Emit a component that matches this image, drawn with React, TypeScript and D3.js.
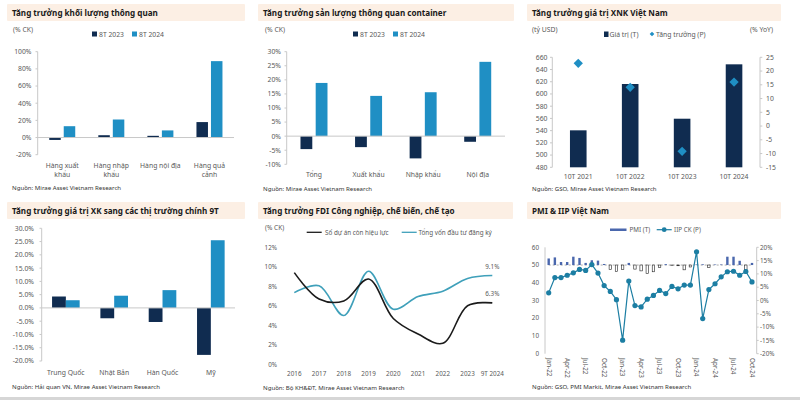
import React from "react";
import * as d3 from "d3";

const FONT = "'Noto Sans', 'Open Sans', sans-serif";
const DARK = "#102c50";
const BLUE = "#1f8fc4";
const GRAY = "#595959";
const AXIS = "#c8c8c8";
const BANNER = "#fcefe4";
const TITLE = "#1a1a1a";

// ---------- Panel 1: Tăng trưởng khối lượng thông quan ----------
const p1Cats = ["Hàng xuất khẩu", "Hàng nhập khẩu", "Hàng nội địa", "Hàng quả cảnh"];
const p1Labels = [["Hàng xuất", "khẩu"], ["Hàng nhập", "khẩu"], ["Hàng nội địa"], ["Hàng quả", "cảnh"]];
const p1S2023 = [-2.8, 2.7, 2.0, 18];
const p1S2024 = [13.2, 21, 8.3, 89];
const p1Ticks = [-20, 0, 20, 40, 60, 80, 100];

// ---------- Panel 2: container ----------
const p2Cats = ["Tổng", "Xuất khẩu", "Nhập khẩu", "Nội địa"];
const p2S2023 = [-4.6, -3.9, -7.9, -2.0];
const p2S2024 = [18.9, 14.3, 15.6, 26.4];
const p2Ticks = [-10, -5, 0, 5, 10, 15, 20, 25, 30];

// ---------- Panel 3: XNK ----------
const p3Cats = ["10T 2021", "10T 2022", "10T 2023", "10T 2024"];
const p3Value = [540.5, 616.3, 559.5, 648.5];
const p3Growth = [22.8, 14.1, -9.2, 16.0];
const p3LeftTicks = [480, 500, 520, 540, 560, 580, 600, 620, 640, 660];
const p3RightTicks = [-15, -10, -5, 0, 5, 10, 15, 20, 25];

// ---------- Panel 4: XK sang thị trường ----------
const p4Cats = ["Trung Quốc", "Nhật Bản", "Hàn Quốc", "Mỹ"];
const p4S1 = [4.3, -3.9, -5.3, -17.7];
const p4S2 = [2.9, 4.6, 6.7, 25.5];
const p4Ticks = [-20, -15, -10, -5, 0, 5, 10, 15, 20, 25, 30];

// ---------- Panel 5: FDI ----------
const p5Years = ["2016", "2017", "2018", "2019", "2020", "2021", "2022", "2023", "9T 2024"];
const p5Projects = [9.4, 6.7, 6.5, 8.75, 4.7, 3.1, 2.15, 6.0, 6.3];
const p5Capital = [7.35, 8.05, 5.0, 9.55, 5.65, 6.95, 7.5, 8.8, 9.1];
const p5Ticks = [0, 2, 4, 6, 8, 10, 12];

// ---------- Panel 6: PMI & IIP ----------
const p6Months = [
  "Jan-22", "Feb-22", "Mar-22", "Apr-22", "May-22", "Jun-22", "Jul-22", "Aug-22", "Sep-22", "Oct-22", "Nov-22", "Dec-22",
  "Jan-23", "Feb-23", "Mar-23", "Apr-23", "May-23", "Jun-23", "Jul-23", "Aug-23", "Sep-23", "Oct-23", "Nov-23", "Dec-23",
  "Jan-24", "Feb-24", "Mar-24", "Apr-24", "May-24", "Jun-24", "Jul-24", "Aug-24", "Sep-24", "Oct-24",
];
const p6PMI = [
  53.7, 54.3, 51.7, 51.7, 54.7, 54.0, 51.2, 52.7, 52.5, 50.6, 47.4, 46.4,
  47.4, 51.2, 47.7, 46.7, 45.3, 46.2, 48.7, 50.5, 49.7, 49.6, 47.3, 48.9,
  50.3, 50.4, 48.5, 50.3, 50.3, 54.7, 54.7, 52.4, 47.3, 51.2,
];
const p6IIP = [
  2.9, 8.6, 8.6, 9.5, 10.4, 11.7, 11.3, 13.5, 10.3, 5.6, 3.4, 0.3,
  -14.9, 7.3, -1.9, -2.4, 0.5, 1.9, 3.8, 2.6, 5.3, 4.4, 5.8, 5.8,
  18.3, -6.8, 4.1, 6.3, 8.9, 10.8, 11.0, 9.5, 10.9, 7.0,
];
const p6LeftTicks = [0, 10, 20, 30, 40, 50, 60];
const p6RightTicks = [-20, -15, -10, -5, 0, 5, 10, 15, 20];
const p6Labels = ["Jan-22", "Apr-22", "Jul-22", "Oct-22", "Jan-23", "Apr-23", "Jul-23", "Oct-23", "Jan-24", "Apr-24", "Jul-24", "Oct-24"];

function Banner({ x, y, w, title }: { x: number; y: number; w: number; title: string }) {
  return (
    <g>
      <rect x={x} y={y} width={w} height={17} fill={BANNER} rx={1} />
      <text x={x + 5} y={y + 12} fontSize={8.1} fontWeight="bold" fill={TITLE}>{title}</text>
    </g>
  );
}

function Source({ x, y, text }: { x: number; y: number; text: string }) {
  return <text x={x} y={y} fontSize={6.1} fill="#333">{text}</text>;
}

function barRect(y: d3.ScaleLinear<number, number>, v: number, base = 0) {
  const a = y(base), b = y(v);
  return { y: Math.min(a, b), h: Math.abs(a - b) };
}

function Legend2({ x1, x2, y, l1, l2 }: { x1: number; x2: number; y: number; l1: string; l2: string }) {
  return (
    <g fontSize={6.8} fill={GRAY}>
      <rect x={x1} y={y - 5} width={5} height={5} fill={DARK} />
      <text x={x1 + 7} y={y}>{l1}</text>
      <rect x={x2} y={y - 5} width={5} height={5} fill={BLUE} />
      <text x={x2 + 7} y={y}>{l2}</text>
    </g>
  );
}

function Panel1() {
  const x = d3.scaleBand<string>().domain(p1Cats).range([37.7, 234]);
  const y = d3.scaleLinear().domain([-20, 100]).range([154.7, 51.7]);
  return (
    <g>
      <Banner x={7} y={4} w={238} title="Tăng trưởng khối lượng thông quan" />
      <text x={13} y={31.5} fontSize={6.8} fill={GRAY}>(% CK)</text>
      <Legend2 x1={92} x2={132} y={36.5} l1="8T 2023" l2="8T 2024" />
      {p1Ticks.map((t) => (
        <g key={t}>
          <text x={31.5} y={y(t) + 2.4} textAnchor="end" fontSize={6.8} fill={GRAY}>{t}%</text>
          <line x1={35.5} x2={37.7} y1={y(t)} y2={y(t)} stroke={AXIS} />
        </g>
      ))}
      <line x1={37.7} x2={37.7} y1={y(100)} y2={y(-20)} stroke={AXIS} />
      {p1Cats.map((c, i) => {
        const cx = x(c)! + x.bandwidth() / 2;
        const r1 = barRect(y, p1S2023[i]);
        const r2 = barRect(y, p1S2024[i]);
        return (
          <g key={c}>
            <rect x={cx - 13} y={r1.y} width={11.5} height={r1.h} fill={DARK} />
            <rect x={cx + 1.5} y={r2.y} width={11.5} height={r2.h} fill={BLUE} />
            {p1Labels[i].map((l, j) => (
              <text key={j} x={cx} y={167.5 + j * 9} textAnchor="middle" fontSize={6.8} fill={GRAY}>{l}</text>
            ))}
          </g>
        );
      })}
      <line x1={37.7} x2={234} y1={y(0)} y2={y(0)} stroke={AXIS} />
      <Source x={12} y={190} text="Nguồn: Mirae Asset Vietnam Research" />
    </g>
  );
}

function Panel2() {
  const x = d3.scaleBand<string>().domain(p2Cats).range([286.7, 505]);
  const y = d3.scaleLinear().domain([-10, 30]).range([164.3, 51.7]);
  return (
    <g>
      <Banner x={258} y={4} w={256} title="Tăng trưởng sản lượng thông quan container" />
      <text x={265} y={31.5} fontSize={6.8} fill={GRAY}>(% CK)</text>
      <Legend2 x1={353} x2={393} y={36.5} l1="8T 2023" l2="8T 2024" />
      {p2Ticks.map((t) => (
        <g key={t}>
          <text x={281} y={y(t) + 2.4} textAnchor="end" fontSize={6.8} fill={GRAY}>{t}%</text>
          <line x1={284.5} x2={286.7} y1={y(t)} y2={y(t)} stroke={AXIS} />
        </g>
      ))}
      <line x1={286.7} x2={286.7} y1={y(30)} y2={y(-10)} stroke={AXIS} />
      {p2Cats.map((c, i) => {
        const cx = x(c)! + x.bandwidth() / 2;
        const r1 = barRect(y, p2S2023[i]);
        const r2 = barRect(y, p2S2024[i]);
        return (
          <g key={c}>
            <rect x={cx - 13.5} y={r1.y} width={11.8} height={r1.h} fill={DARK} />
            <rect x={cx + 1.7} y={r2.y} width={11.8} height={r2.h} fill={BLUE} />
            <text x={cx} y={176.5} textAnchor="middle" fontSize={6.8} fill={GRAY}>{c}</text>
          </g>
        );
      })}
      <line x1={286.7} x2={505} y1={y(0)} y2={y(0)} stroke={AXIS} />
      <Source x={263} y={191} text="Nguồn: Mirae Asset Vietnam Research" />
    </g>
  );
}

function Panel3() {
  const x = d3.scaleBand<string>().domain(p3Cats).range([552.3, 760]);
  const yl = d3.scaleLinear().domain([480, 660]).range([167.3, 57.3]);
  const yr = d3.scaleLinear().domain([-15, 25]).range([167.3, 57.3]);
  const diamond = d3.symbol().type(d3.symbolDiamond2).size(55)();
  return (
    <g>
      <Banner x={527} y={4} w={254} title="Tăng trưởng giá trị XNK Việt Nam" />
      <text x={532} y={31.5} fontSize={6.8} fill={GRAY}>(tỷ USD)</text>
      <text x={773} y={31.5} fontSize={6.8} fill={GRAY} textAnchor="end">(% YoY)</text>
      <g fontSize={6.8} fill={GRAY}>
        <rect x={604} y={31.5} width={4.5} height={5.5} fill={DARK} />
        <text x={609.5} y={36.5}>Giá trị (T)</text>
        <path d={d3.symbol().type(d3.symbolDiamond2).size(14)()!} transform="translate(652,34)" fill={BLUE} />
        <text x={656} y={36.5}>Tăng trưởng (P)</text>
      </g>
      {p3LeftTicks.map((t) => (
        <g key={t}>
          <text x={547.5} y={yl(t) + 2.4} textAnchor="end" fontSize={6.8} fill={GRAY}>{t}</text>
          <line x1={550} x2={552.3} y1={yl(t)} y2={yl(t)} stroke={AXIS} />
        </g>
      ))}
      <line x1={552.3} x2={552.3} y1={yl(660)} y2={yl(480)} stroke={AXIS} />
      {p3RightTicks.map((t) => (
        <g key={t}>
          <text x={766} y={yr(t) + 2.4} fontSize={6.8} fill={GRAY}>{t}</text>
          <line x1={760} x2={762.3} y1={yr(t)} y2={yr(t)} stroke={AXIS} />
        </g>
      ))}
      <line x1={760} x2={760} y1={yr(25)} y2={yr(-15)} stroke={AXIS} />
      {p3Cats.map((c, i) => {
        const cx = x(c)! + x.bandwidth() / 2;
        const r = barRect(yl, p3Value[i], 480);
        return (
          <g key={c}>
            <rect x={cx - 8.3} y={r.y} width={16.6} height={r.h} fill={DARK} />
            <text x={cx} y={179} textAnchor="middle" fontSize={6.8} fill={GRAY}>{c}</text>
          </g>
        );
      })}
      {p3Cats.map((c, i) => {
        const cx = x(c)! + x.bandwidth() / 2;
        return <path key={c} d={diamond!} transform={`translate(${cx},${yr(p3Growth[i])})`} fill={BLUE} />;
      })}
      <Source x={532} y={191} text="Nguồn: GSO, Mirae Asset Vietnam Research" />
    </g>
  );
}

function Panel4() {
  const x = d3.scaleBand<string>().domain(p4Cats).range([41.7, 235]);
  const y = d3.scaleLinear().domain([-20, 30]).range([361, 228.3]);
  return (
    <g>
      <Banner x={7} y={202} w={238} title="Tăng trưởng giá trị XK sang các thị trường chính 9T" />
      {p4Ticks.map((t) => (
        <g key={t}>
          <text x={34} y={y(t) + 2.4} textAnchor="end" fontSize={6.8} fill={GRAY}>{t.toFixed(1)}%</text>
          <line x1={39.5} x2={41.7} y1={y(t)} y2={y(t)} stroke={AXIS} />
        </g>
      ))}
      <line x1={41.7} x2={41.7} y1={y(30)} y2={y(-20)} stroke={AXIS} />
      {p4Cats.map((c, i) => {
        const cx = x(c)! + x.bandwidth() / 2;
        const r1 = barRect(y, p4S1[i]);
        const r2 = barRect(y, p4S2[i]);
        return (
          <g key={c}>
            <rect x={cx - 13.8} y={r1.y} width={13.8} height={r1.h} fill={DARK} />
            <rect x={cx} y={r2.y} width={13.8} height={r2.h} fill={BLUE} />
            <text x={cx} y={374.5} textAnchor="middle" fontSize={6.8} fill={GRAY}>{c}</text>
          </g>
        );
      })}
      <line x1={41.7} x2={235} y1={y(0)} y2={y(0)} stroke={AXIS} />
      <Source x={12} y={389} text="Nguồn: Hải quan VN, Mirae Asset Vietnam Research" />
    </g>
  );
}

function Panel5() {
  const x = d3.scalePoint<string>().domain(p5Years).range([294.3, 492.3]);
  const y = d3.scaleLinear().domain([0, 12]).range([364.3, 247.3]);
  const line = d3
    .line<number>()
    .x((_, i) => x(p5Years[i])!)
    .y((d) => y(d))
    .curve(d3.curveCatmullRom.alpha(0.5));
  const n = p5Years.length - 1;
  return (
    <g>
      <Banner x={258} y={202} w={255} title="Tăng trưởng FDI Công nghiệp, chế biến, chế tạo" />
      <text x={265} y={229.5} fontSize={6.5} fill={GRAY}>(% CK)</text>
      <g fontSize={6.3} fill={GRAY}>
        <line x1={306.7} x2={321.7} y1={232.3} y2={232.3} stroke="#1b1b1b" strokeWidth={1.3} />
        <text x={325} y={234.5}>Số dự án còn hiệu lực</text>
        <line x1={401.7} x2={416.7} y1={232.3} y2={232.3} stroke="#3fa0ba" strokeWidth={1.3} />
        <text x={418.5} y={234.5}>Tổng vốn đầu tư đăng ký</text>
      </g>
      {p5Ticks.map((t) => (
        <text key={t} x={277} y={y(t) + 2.2} textAnchor="end" fontSize={6.3} fill={GRAY}>{t}%</text>
      ))}
      {p5Years.map((yr) => (
        <text key={yr} x={x(yr)!} y={375.5} textAnchor="middle" fontSize={6.3} fill={GRAY}>{yr}</text>
      ))}
      <path d={line(p5Capital)!} fill="none" stroke="#3fa0ba" strokeWidth={1.6} />
      <path d={line(p5Projects)!} fill="none" stroke="#1b1b1b" strokeWidth={1.6} />
      <text x={x(p5Years[n])!} y={y(p5Capital[n]) - 7} textAnchor="middle" fontSize={6.3} fill={GRAY}>{p5Capital[n].toFixed(1)}%</text>
      <text x={x(p5Years[n])!} y={y(p5Projects[n]) - 7} textAnchor="middle" fontSize={6.3} fill={GRAY}>{p5Projects[n].toFixed(1)}%</text>
      <Source x={263} y={389.5} text="Nguồn: Bộ KH&ĐT, Mirae Asset Vietnam Research" />
    </g>
  );
}

function Panel6() {
  const x = d3.scalePoint<string>().domain(p6Months).range([548.7, 752]);
  const yl = d3.scaleLinear().domain([0, 60]).range([353.7, 247.3]);
  const yr = d3.scaleLinear().domain([-20, 20]).range([353.7, 247.3]);
  const line = d3
    .line<number>()
    .x((_, i) => x(p6Months[i])!)
    .y((d) => yr(d));
  const IIPC = "#1c7ea3";
  return (
    <g>
      <Banner x={527} y={202} w={254} title="PMI & IIP Việt Nam" />
      <g fontSize={6.3} fill={GRAY}>
        <rect x={610} y={228.5} width={16.5} height={2.5} fill="#4a67ad" />
        <text x={629.5} y={232}>PMI (T)</text>
        <line x1={656.7} x2={671.7} y1={229.7} y2={229.7} stroke={IIPC} strokeWidth={1.2} />
        <circle cx={664.2} cy={229.7} r={2.4} fill={IIPC} />
        <text x={674} y={232}>IIP CK (P)</text>
      </g>
      {p6LeftTicks.map((t) => (
        <text key={t} x={539} y={yl(t) + 2.2} textAnchor="end" fontSize={6.3} fill={GRAY}>{t}</text>
      ))}
      <line x1={545} x2={545} y1={yl(60)} y2={yl(0)} stroke={AXIS} />
      {p6RightTicks.map((t) => (
        <g key={t}>
          <text x={760} y={yr(t) + 2.2} fontSize={6.3} fill={GRAY}>{t}%</text>
          <line x1={756.7} x2={758.7} y1={yr(t)} y2={yr(t)} stroke={AXIS} />
        </g>
      ))}
      <line x1={756.7} x2={756.7} y1={yr(20)} y2={yr(-20)} stroke={AXIS} />
      <line x1={548.7} x2={752} y1={yl(50)} y2={yl(50)} stroke="#888" strokeWidth={0.7} strokeDasharray="2,2" />
      {p6Months.map((m, i) => {
        const v = p6PMI[i];
        const r = barRect(yl, v, 50);
        return v >= 50 ? (
          <rect key={m} x={x(m)! - 1.2} y={r.y} width={2.4} height={r.h} fill="#4a67ad" />
        ) : (
          <rect key={m} x={x(m)! - 1.2} y={r.y} width={2.4} height={r.h} fill="#fff" stroke="#222" strokeWidth={0.6} />
        );
      })}
      <path d={line(p6IIP)!} fill="none" stroke={IIPC} strokeWidth={1.2} />
      {p6IIP.map((v, i) => (
        <circle key={i} cx={x(p6Months[i])!} cy={yr(v)} r={2.6} fill={IIPC} />
      ))}
      {p6Labels.map((m) => (
        <text key={m} transform={`translate(${x(m)! - 2.2},358) rotate(90)`} fontSize={6.3} fill={GRAY}>{m}</text>
      ))}
      <Source x={532} y={388.5} text="Nguồn: GSO, PMI Markit, Mirae Asset Vietnam Research" />
    </g>
  );
}

export default function App() {
  return (
    <svg
      width={800}
      height={400}
      style={{ position: "absolute", left: 0, top: 0, background: "#fff" }}
      fontFamily={FONT}
    >
      <rect width={800} height={400} fill="#fff" />
      <Panel1 />
      <Panel2 />
      <Panel3 />
      <Panel4 />
      <Panel5 />
      <Panel6 />
      <rect x={0} y={397} width={800} height={3} fill="#d6d6d6" />
    </svg>
  );
}
